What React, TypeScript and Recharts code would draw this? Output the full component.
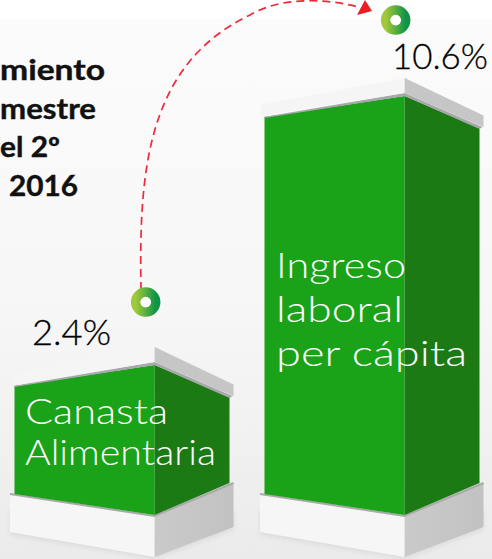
import React from "react";
import { BarChart, Bar, XAxis, YAxis } from "recharts";

const categories = ["Canasta Alimentaria", "Ingreso laboral per cápita"];
const categoryLines = [["Canasta", "Alimentaria"], ["Ingreso", "laboral", "per cápita"]];
const growthValues = [2.4, 10.6];
const valueLabels = ["2.4%", "10.6%"];
const titleLines = ["miento", "mestre", "el 2º", "2016"];

const BASE_VALUE = -2.17;
const data = categories.map((name, i) => ({ name, range: [BASE_VALUE, growthValues[i]] }));

const FONT = "Lato, 'Open Sans', sans-serif";
const labelLayout = [
  { x: 32, w: 79, dy: -20, mx: -9, my: -63 },
  { x: 392, w: 96, dy: -27, mx: -9, my: -76 },
];
const textLayout = [
  { x: 25, y0: 424, step: 41, widths: [143, 191] },
  { x: 276, y0: 278, step: 44, widths: [130, 127, 191] },
];
const titleStarts = [0, 0, 0, 9];
const titleWidths = [105, 96, 60, 69];

const pts = (a: number[][]) => a.map((p) => p.join(",")).join(" ");

function Block(props: any) {
  const { x, y, width, height, index } = props;
  const w = width;
  const cx = x + w * 0.652;
  const r = x + w;
  const b = y + height;
  const yc = y;
  const t = textLayout[index];
  const l = labelLayout[index];
  return (
    <g>
      <polygon points={pts([[x - 4.5, 510], [cx, 536], [r + 4, 510], [r + 4, 530], [cx, 559], [x - 4.5, 535]])} fill="#dcdcdc" filter="url(#soft)" />
      {/* plinth */}
      <polygon points={pts([[x - 4.5, b - 20], [cx, b + 2], [cx, b + 42], [x - 4.5, b + 17]])} fill="#f6f6f6" />
      <polygon points={pts([[cx, b + 2], [r + 4, b - 32], [r + 4, b + 12], [cx, b + 42]])} fill="url(#plinthSide)" />
      <polyline points={pts([[x - 4.5, b - 21], [cx, b + 1], [r + 4, b - 32]])} fill="none" stroke="#a9a9a9" strokeWidth={2} />
      {/* green body */}
      <polygon points={pts([[x, yc + 21], [cx, yc], [cx, b], [x, b - 21]])} fill="#1aa218" />
      <polygon points={pts([[cx, yc], [r, yc + 32], [r, b - 32], [cx, b]])} fill="#1c7a14" />
      {/* lid shadow */}
      <polygon points={pts([[x - 1, yc + 21], [cx, yc - 3], [r + 3, yc + 31], [r, yc + 33], [cx, yc], [x, yc + 22]])} fill="#a8a8ac" />
      {/* lid */}
      <polygon points={pts([[x - 3.5, yc + 8.5], [cx, yc - 18], [cx, yc - 3], [x - 3.5, yc + 20]])} fill="#f5f5f5" />
      <polygon points={pts([[cx, yc - 18], [r + 4, yc + 19.5], [r + 4, yc + 31], [cx, yc - 3]])} fill="#c6c6c6" />
      {/* category text */}
      {categoryLines[index].map((line, i) => (
        <text key={line} x={t.x} y={t.y0 + i * t.step} fontFamily={FONT} fontWeight={300} fontSize={36}
          fill="#ffffff" textLength={t.widths[i]} lengthAdjust="spacingAndGlyphs">{line}</text>
      ))}
      {/* value text */}
      <text x={l.x} y={yc + l.dy} fontFamily={FONT} fontWeight={300} fontSize={35} fill="#000000" stroke="#000000" strokeWidth={0.3}
        textLength={l.w} lengthAdjust="spacingAndGlyphs">{valueLabels[index]}</text>
      {/* marker */}
      <circle cx={cx + l.mx} cy={yc + l.my} r={10} fill="none" stroke="url(#donut)" strokeWidth={9.5} />
      <circle cx={cx + l.mx} cy={yc + l.my} r={5.2} fill="#ffffff" />
    </g>
  );
}

export default function App() {
  return (
    <div style={{ position: "fixed", left: 0, top: 0, width: 492, height: 559, overflow: "hidden",
      background: "linear-gradient(#ffffff 0, #ffffff 18px, #fbfbfb 20px, #f7f7f7 300px, #ebebeb 559px)" }}>
      <BarChart width={492} height={559} data={data} margin={{ top: 0, right: -5, bottom: 44, left: -3 }} barCategoryGap={17.5}>
        <defs>
          <linearGradient id="donut" x1="0" x2="1" y1="0" y2="0">
            <stop offset="0" stopColor="#a2c93a" />
            <stop offset="1" stopColor="#0f9447" />
          </linearGradient>
          <linearGradient id="plinthSide" x1="0" x2="1" y1="0" y2="0">
            <stop offset="0" stopColor="#cacaca" />
            <stop offset="1" stopColor="#c2c2c2" />
          </linearGradient>
          <filter id="soft" x="-10%" y="-10%" width="120%" height="120%">
            <feGaussianBlur stdDeviation="2.5" />
          </filter>
        </defs>
        <XAxis dataKey="name" type="category" hide />
        <YAxis type="number" domain={[BASE_VALUE, 13.53]} hide />
        <Bar dataKey="range" isAnimationActive={false} shape={(p: any) => <Block {...p} />} />
        {titleLines.map((line, i) => (
          <text key={line} x={titleStarts[i]} y={80 + i * 38.5} fontFamily={FONT} fontWeight={700}
            fontSize={28} fill="#111111" stroke="#111111" strokeWidth={0.4}
            textLength={titleWidths[i]} lengthAdjust="spacingAndGlyphs">{line}</text>
        ))}
        <path d="M141 290 C139 175 145 65 250 15 C280 -3 325 -2 358 7" fill="none" stroke="#ee2a3a" strokeWidth={1.7} strokeDasharray="8 5" />
        <polygon points={pts([[372, 11], [365, 0], [357, 15]])} fill="#ee1c25" />
      </BarChart>
    </div>
  );
}
